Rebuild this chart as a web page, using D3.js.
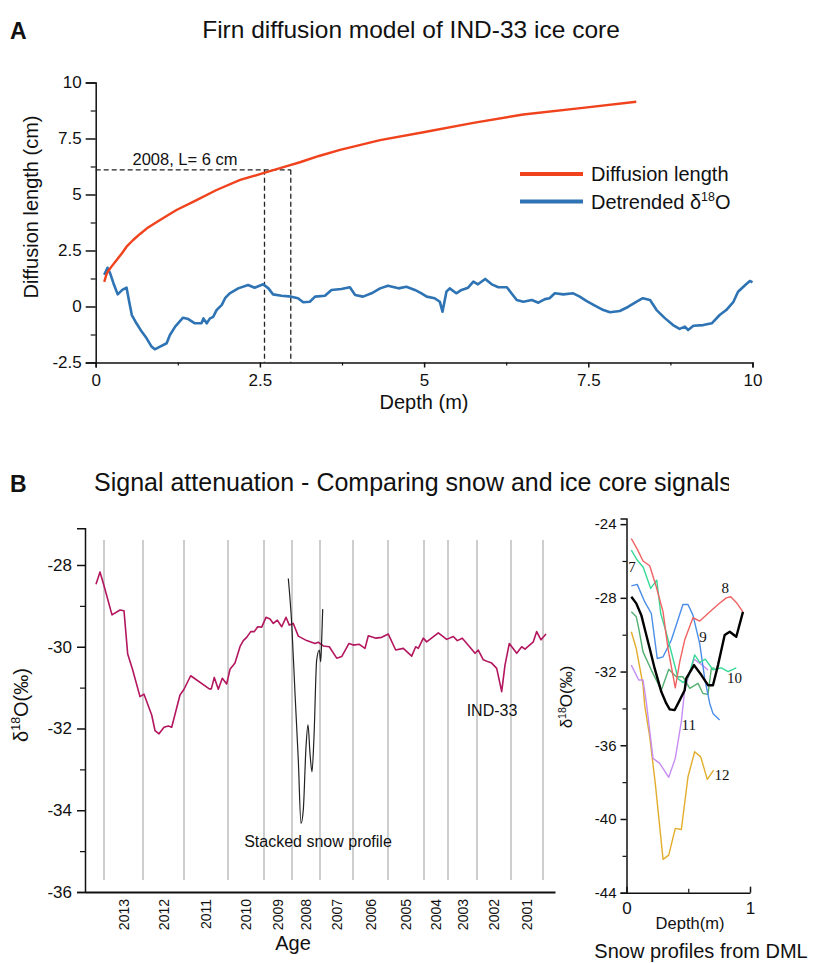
<!DOCTYPE html>
<html><head><meta charset="utf-8">
<script src="https://cdn.jsdelivr.net/npm/d3@7"></script>
<style>
body{margin:0;background:#fff}
svg{display:block}
text{font-family:Arial,"Liberation Sans",sans-serif;fill:#111}
</style>
</head><body>
<svg id="chart" width="813" height="963"></svg>
<script>
// ---------- Panel A data ----------
const diffDepth = [0.13,0.15,0.17,0.2,0.24,0.32,0.4,0.47,0.57,0.68,0.78,0.98,1.23,1.49,1.84,2.2,2.55,2.91,3.11,3.4,3.72,4.33,4.99,5.75,6.51,7.45,8.23];
const diffLength = [1.1,1.3,1.48,1.62,1.78,2.08,2.38,2.67,2.97,3.25,3.49,3.86,4.31,4.68,5.2,5.65,5.95,6.27,6.44,6.72,6.99,7.43,7.78,8.2,8.57,8.88,9.14];
const detDepth = [0.13,0.18,0.22,0.27,0.335,0.405,0.47,0.51,0.55,0.62,0.70,0.775,0.85,0.90,0.98,1.08,1.13,1.21,1.33,1.41,1.51,1.61,1.64,1.69,1.74,1.79,1.84,1.92,1.97,2.04,2.17,2.32,2.42,2.55,2.63,2.70,2.83,2.98,3.08,3.16,3.26,3.34,3.49,3.59,3.74,3.87,3.95,4.07,4.20,4.33,4.45,4.61,4.73,4.86,4.96,5.04,5.16,5.24,5.28,5.30,5.34,5.39,5.49,5.57,5.67,5.75,5.82,5.93,6.03,6.13,6.26,6.33,6.41,6.51,6.64,6.74,6.84,6.91,6.99,7.12,7.27,7.37,7.47,7.60,7.73,7.83,7.98,8.11,8.23,8.33,8.44,8.54,8.67,8.79,8.89,8.97,9.02,9.10,9.25,9.38,9.50,9.60,9.71,9.78,9.89,9.96,10.0];
const detValue = [1.41,1.73,1.48,1.04,0.54,0.74,0.84,0.21,-0.38,-0.75,-1.12,-1.42,-1.79,-1.91,-1.79,-1.64,-1.27,-0.90,-0.50,-0.56,-0.75,-0.75,-0.53,-0.75,-0.53,-0.46,-0.16,0.07,0.37,0.59,0.81,0.96,0.84,0.99,0.81,0.54,0.48,0.44,0.37,0.19,0.21,0.44,0.48,0.74,0.78,0.86,0.51,0.44,0.59,0.81,0.93,0.81,0.88,0.74,0.59,0.44,0.37,0.21,-0.23,0.07,0.66,0.81,0.59,0.74,0.84,1.11,0.99,1.23,0.99,0.86,0.86,0.59,0.29,0.21,0.29,0.17,0.33,0.37,0.59,0.54,0.59,0.44,0.25,0.04,-0.16,-0.26,-0.20,-0.01,0.21,0.37,0.29,-0.16,-0.53,-0.83,-1.00,-0.90,-1.05,-0.86,-0.83,-0.75,-0.38,-0.16,0.21,0.66,0.96,1.14,1.08];
const xTicksA = [0,2.5,5,7.5,10];
const yTicksA = [-2.5,0,2.5,5,7.5,10];
const refDepths = [2.57,2.97];   // 2008 layer bounds (m)
const refL = 6.1;                // diffusion length at 2008 (cm)

// ---------- Panel B (left) data ----------
const yearBounds = [0.19,0.58,0.99,1.43,1.79,2.07,2.35,2.68,3.03,3.39,3.63,3.92,4.26,4.58];
const yearLabels = ["2013","2012","2011","2010","2009","2008","2007","2006","2005","2004","2003","2002","2001"];
const ind33Depth = [0.11,0.15,0.193,0.27,0.35,0.39,0.427,0.477,0.55,0.59,0.667,0.70,0.74,0.79,0.833,0.867,0.95,0.99,1.057,1.243,1.263,1.293,1.333,1.373,1.417,1.45,1.50,1.55,1.583,1.617,1.657,1.693,1.727,1.767,1.81,1.85,1.883,1.923,1.967,2.01,2.043,2.083,2.133,2.217,2.30,2.333,2.383,2.443,2.517,2.567,2.64,2.683,2.743,2.80,2.833,2.91,2.967,3.033,3.107,3.183,3.267,3.307,3.333,3.383,3.417,3.533,3.617,3.683,3.723,3.773,3.867,3.90,3.933,3.983,4.033,4.067,4.117,4.167,4.20,4.243,4.317,4.367,4.40,4.483,4.517,4.56,4.61];
const ind33Value = [-28.47,-28.17,-28.53,-29.22,-29.10,-29.12,-30.18,-30.57,-31.22,-31.16,-31.67,-32.05,-32.13,-31.97,-31.94,-31.97,-31.18,-31.04,-30.71,-31.03,-31.03,-30.75,-31.04,-30.77,-30.91,-30.55,-30.40,-30.00,-29.85,-29.77,-29.63,-29.63,-29.51,-29.52,-29.28,-29.32,-29.43,-29.35,-29.51,-29.28,-29.47,-29.43,-29.74,-29.85,-29.92,-29.89,-29.98,-30.00,-30.28,-30.24,-29.92,-29.96,-29.94,-30.04,-29.73,-29.79,-29.77,-29.69,-30.08,-30.04,-30.23,-30.00,-30.04,-29.79,-29.88,-29.66,-29.82,-29.75,-29.85,-29.79,-30.06,-30.16,-30.08,-30.32,-30.37,-30.40,-30.53,-31.10,-30.45,-29.92,-30.16,-30.00,-30.06,-29.88,-29.63,-29.83,-29.69];
const snowDepth = [2.033,2.067,2.10,2.133,2.16,2.183,2.21,2.23,2.25,2.27,2.29,2.317,2.343,2.357,2.367,2.377];
const snowValue = [-28.33,-29.43,-31.14,-32.77,-34.32,-33.99,-32.45,-31.91,-32.61,-33.06,-32.20,-30.32,-30.08,-30.37,-29.83,-29.08];
const yTicksB = [-36,-34,-32,-30,-28];

// ---------- Panel B (right) data: snow profiles from DML ----------
const p7Depth = [0.039,0.087,0.136,0.196,0.245,0.277,0.32,0.366,0.418,0.46,0.5,0.552,0.593,0.638,0.70,0.768,0.822,0.889];
const p7Value = [-25.41,-25.95,-26.35,-27.49,-27.04,-28.85,-29.84,-31.02,-32.4,-32.6,-32.3,-31.1,-31.5,-31.33,-31.9,-31.8,-32.0,-31.8];
const p8Depth = [0.039,0.09,0.134,0.188,0.241,0.296,0.336,0.395,0.431,0.471,0.538,0.593,0.66,0.741,0.808,0.844,0.889,0.943];
const p8Value = [-24.78,-25.4,-26.0,-26.26,-27.40,-28.76,-30.75,-32.88,-31.47,-30.29,-29.08,-29.26,-28.85,-28.36,-28.00,-27.94,-28.25,-28.76];
const p9Depth = [0.039,0.087,0.147,0.201,0.249,0.296,0.363,0.457,0.498,0.538,0.593,0.633,0.674,0.70,0.754];
const p9Value = [-27.35,-27.27,-28.21,-28.85,-31.29,-31.20,-30.29,-28.36,-28.36,-28.94,-30.48,-32.37,-33.73,-34.27,-34.63];
const p10Depth = [0.039,0.079,0.099,0.134,0.201,0.282,0.342,0.403,0.457,0.512,0.579,0.619,0.66,0.687,0.714];
const p10Value = [-28.76,-29.03,-29.66,-30.93,-31.92,-33.01,-31.87,-32.28,-32.28,-32.91,-32.64,-33.19,-33.24,-31.83,-31.80];
const p11Depth = [0.039,0.099,0.134,0.16,0.215,0.269,0.342,0.395,0.444,0.471,0.498,0.547,0.606,0.66];
const p11Value = [-31.65,-32.46,-32.46,-33.64,-36.71,-36.98,-37.74,-36.71,-34.72,-33.0,-32.37,-31.33,-31.61,-31.92];
const p12Depth = [0.039,0.079,0.134,0.147,0.188,0.233,0.296,0.342,0.395,0.444,0.498,0.552,0.601,0.654,0.706];
const p12Value = [-29.84,-30.75,-32.74,-33.82,-35.54,-38.07,-42.19,-41.96,-40.51,-40.57,-37.71,-36.35,-36.63,-37.85,-37.35];
const stackDepth = [0.039,0.079,0.12,0.147,0.188,0.228,0.282,0.322,0.35,0.39,0.431,0.471,0.484,0.547,0.606,0.66,0.70,0.741,0.795,0.836,0.889,0.943];
const stackValue = [-27.94,-28.30,-28.94,-29.66,-30.75,-31.83,-33.10,-33.73,-34.05,-34.09,-33.55,-33.01,-32.37,-31.65,-32.19,-32.74,-32.74,-31.65,-30.02,-29.84,-30.11,-28.76];
const profileNames = ["7","8","9","10","11","12"];
const profileLabelDepth = [0.045,0.80,0.62,0.875,0.504,0.773];
const profileLabelValue = [-26.35,-27.46,-30.12,-32.37,-34.9,-37.62];
const yTicksC = [-44,-40,-36,-32,-28,-24];
const xTicksC = [0,1];

// ---------- drawing ----------
const svg = d3.select("#chart");

function styleAxis(g, w){
  g.selectAll(".domain").attr("stroke","#111").attr("stroke-width",w);
  g.selectAll(".tick line").attr("stroke","#111").attr("stroke-width",w);
}
function zip(a,b){ return a.map((d,i)=>[d,b[i]]); }
function sup(t, parts, fs){ // parts: [base, superscript, rest]
  t.append("tspan").text(parts[0]);
  t.append("tspan").attr("dy",-fs*0.38).attr("font-size",fs*0.62).text(parts[1]);
  t.append("tspan").attr("dy",fs*0.38).text(parts[2]);
}

// ===== Panel A =====
const xA = d3.scaleLinear([0,10],[95.7,752.5]);
const yA = d3.scaleLinear([-2.5,10],[362.5,82.5]);
const gA = svg.append("g");

svg.append("text").attr("x",10).attr("y",39).attr("font-size",23).attr("font-weight","bold").text("A");
svg.append("text").attr("x",411).attr("y",38).attr("text-anchor","middle").attr("font-size",24.5).text("Firn diffusion model of IND-33 ice core");

// axes
const axYA = gA.append("g").attr("transform","translate(95.7,0)")
  .call(d3.axisLeft(yA).tickValues(yTicksA).tickSize(10).tickPadding(4).tickFormat(d=>String(d)));
axYA.selectAll("text").attr("font-size",17);
styleAxis(axYA,1.5);
const axYAm = gA.append("g").attr("transform","translate(95.7,0)")
  .call(d3.axisLeft(yA).tickValues(yTicksA.slice(1).map((d,i)=>(d+yTicksA[i])/2)).tickSize(5).tickFormat(""));
axYAm.select(".domain").remove(); styleAxis(axYAm,1.2);

const axXA = gA.append("g").attr("transform","translate(0,362.5)")
  .call(d3.axisBottom(xA).tickValues(xTicksA).tickSize(5).tickPadding(6).tickFormat(d=>String(d)));
axXA.selectAll("text").attr("font-size",17);
styleAxis(axXA,1.5);
const axXAm = gA.append("g").attr("transform","translate(0,362.5)")
  .call(d3.axisBottom(xA).tickValues(xTicksA.slice(1).map((d,i)=>(d+xTicksA[i])/2)).tickSize(3).tickFormat(""));
axXAm.select(".domain").remove(); styleAxis(axXAm,1.2);

gA.append("text").attr("transform","translate(38,207) rotate(-90)").attr("text-anchor","middle")
  .attr("font-size",20).text("Diffusion length (cm)");
gA.append("text").attr("x",424).attr("y",409).attr("text-anchor","middle").attr("font-size",20).text("Depth (m)");

// dashed reference lines
gA.append("line").attr("x1",xA(0)).attr("x2",xA(refDepths[1])).attr("y1",yA(refL)).attr("y2",yA(refL))
  .attr("stroke","#222").attr("stroke-width",1.3).attr("stroke-dasharray","5,3");
refDepths.forEach(d=>{
  gA.append("line").attr("x1",xA(d)).attr("x2",xA(d)).attr("y1",yA(refL)).attr("y2",yA(-2.5))
    .attr("stroke","#222").attr("stroke-width",1.3).attr("stroke-dasharray","5,3");
});
gA.append("text").attr("x",185).attr("y",165).attr("text-anchor","middle").attr("font-size",16.5).text("2008, L= 6 cm");

const lineA = d3.line().x(d=>xA(d[0])).y(d=>yA(d[1]));
gA.append("path").datum(zip(detDepth,detValue)).attr("d",lineA)
  .attr("fill","none").attr("stroke","#2e73b3").attr("stroke-width",2.6).attr("stroke-linejoin","round");
gA.append("path").datum(zip(diffDepth,diffLength)).attr("d",lineA)
  .attr("fill","none").attr("stroke","#f0421c").attr("stroke-width",2.4).attr("stroke-linejoin","round");

// legend
const legA = gA.append("g");
[["#f0421c",174],["#2e73b3",201.5]].forEach(([c,y])=>{
  legA.append("line").attr("x1",520).attr("x2",583).attr("y1",y).attr("y2",y).attr("stroke",c).attr("stroke-width",4);
});
legA.append("text").attr("x",591).attr("y",181).attr("font-size",20).text("Diffusion length");
sup(legA.append("text").attr("x",591).attr("y",209).attr("font-size",20), ["Detrended δ","18","O"], 20);

// ===== Panel B left =====
svg.append("text").attr("x",10).attr("y",492).attr("font-size",23).attr("font-weight","bold").text("B");
svg.append("defs").append("clipPath").attr("id","clipT").append("rect").attr("x",0).attr("y",455).attr("width",729).attr("height",55);
svg.append("text").attr("clip-path","url(#clipT)").attr("x",94).attr("y",491).attr("font-size",25)
  .text("Signal attenuation - Comparing snow and ice core signals");

const xB = d3.scaleLinear([0,4.7],[85,555]);
const yB = d3.scaleLinear([-36,-27.1],[892,528.2]);
const gB = svg.append("g");

gB.selectAll(".yr").data(yearBounds).join("line")
  .attr("x1",d=>xB(d)).attr("x2",d=>xB(d)).attr("y1",540).attr("y2",880)
  .attr("stroke","#b4b4b4").attr("stroke-width",1.3);

const axYB = gB.append("g").attr("transform","translate(85,0)")
  .call(d3.axisLeft(yB).tickValues(yTicksB).tickSize(8).tickPadding(5).tickFormat(d=>String(d)));
axYB.selectAll("text").attr("font-size",17);
styleAxis(axYB,1.5);
const axYBm = gB.append("g").attr("transform","translate(85,0)")
  .call(d3.axisLeft(yB).tickValues(yTicksB.slice(0,-1).map(d=>d+1)).tickSize(5).tickFormat(""));
axYBm.select(".domain").remove(); styleAxis(axYBm,1.2);

const axXB = gB.append("g").attr("transform","translate(0,892)")
  .call(d3.axisBottom(xB).tickValues([]).tickSizeOuter(0));
styleAxis(axXB,2);

gB.selectAll(".yl").data(yearLabels).join("text")
  .attr("transform",(d,i)=>`translate(${xB((yearBounds[i]+yearBounds[i+1])/2)+5},899) rotate(-90)`)
  .attr("text-anchor","end").attr("font-size",14).text(d=>d);

sup(gB.append("text").attr("transform","translate(28,705) rotate(-90)").attr("text-anchor","middle").attr("font-size",20),
  ["δ","18","O(‰)"],20);
gB.append("text").attr("x",293).attr("y",950).attr("text-anchor","middle").attr("font-size",20).text("Age");

const lineB = d3.line().x(d=>xB(d[0])).y(d=>yB(d[1]));
gB.append("path").datum(zip(ind33Depth,ind33Value)).attr("d",lineB)
  .attr("fill","none").attr("stroke","#b3165e").attr("stroke-width",1.6).attr("stroke-linejoin","round");
gB.append("path").datum(zip(snowDepth,snowValue)).attr("d",lineB.curve(d3.curveMonotoneX))
  .attr("fill","none").attr("stroke","#222").attr("stroke-width",1.2);

gB.append("text").attr("x",492).attr("y",716).attr("text-anchor","middle").attr("font-size",16).text("IND-33");
gB.append("text").attr("x",318).attr("y",847).attr("text-anchor","middle").attr("font-size",16).text("Stacked snow profile");

// ===== Panel B right =====
const xC = d3.scaleLinear([0,1],[626.5,750]);
const yC = d3.scaleLinear([-44,-23.7],[892.7,518.6]);
const gC = svg.append("g");

const axYC = gC.append("g").attr("transform","translate(626.5,0)")
  .call(d3.axisLeft(yC).tickValues(yTicksC).tickSize(6).tickPadding(4).tickFormat(d=>String(d)));
axYC.selectAll("text").attr("font-size",15);
styleAxis(axYC,1.5);
const axYCm = gC.append("g").attr("transform","translate(626.5,0)")
  .call(d3.axisLeft(yC).tickValues(yTicksC.slice(1).map(d=>d-2)).tickSize(4).tickFormat(""));
axYCm.select(".domain").remove(); styleAxis(axYCm,1.2);

const axXC = gC.append("g").attr("transform","translate(0,892.7)")
  .call(d3.axisBottom(xC).tickValues(xTicksC).tickSize(-6).tickSizeOuter(0).tickPadding(9).tickFormat(d=>String(d)));
axXC.selectAll("text").attr("font-size",17);
styleAxis(axXC,1.5);
const axXCm = gC.append("g").attr("transform","translate(0,892.7)")
  .call(d3.axisBottom(xC).tickValues([0.5]).tickSize(-4).tickFormat(""));
axXCm.select(".domain").remove(); styleAxis(axXCm,1.2);

sup(gC.append("text").attr("transform","translate(572,697) rotate(-90)").attr("text-anchor","middle").attr("font-size",17),
  ["δ","18","O(‰)"],17);
gC.append("text").attr("x",690).attr("y",929).attr("text-anchor","middle").attr("font-size",16.5).text("Depth(m)");
gC.append("text").attr("x",701).attr("y",958).attr("text-anchor","middle").attr("font-size",20).text("Snow profiles from DML");

const lineC = d3.line().x(d=>xC(d[0])).y(d=>yC(d[1]));
const profiles = [
  [p12Depth,p12Value,"#e2ad2c",1.4],
  [p11Depth,p11Value,"#c68df2",1.4],
  [p10Depth,p10Value,"#55b072",1.4],
  [p9Depth,p9Value,"#4a8ee8",1.4],
  [p7Depth,p7Value,"#38d996",1.4],
  [p8Depth,p8Value,"#f06262",1.4],
  [stackDepth,stackValue,"#000",2.4]
];
profiles.forEach(([d,v,c,w])=>{
  gC.append("path").datum(zip(d,v)).attr("d",lineC).attr("fill","none")
    .attr("stroke",c).attr("stroke-width",w).attr("stroke-linejoin","round");
});
gC.selectAll(".pl").data(profileNames).join("text")
  .attr("x",(d,i)=>xC(profileLabelDepth[i])).attr("y",(d,i)=>yC(profileLabelValue[i])+5)
  .attr("text-anchor","middle").attr("font-size",15).style("font-family","'Liberation Serif','Times New Roman',serif")
  .text(d=>d);
</script>
</body></html>
